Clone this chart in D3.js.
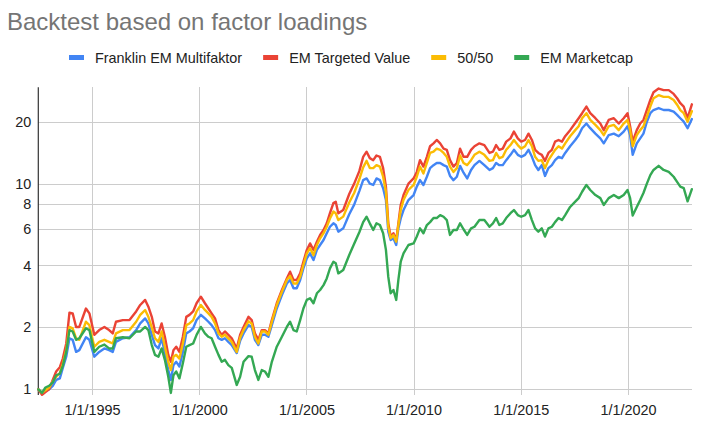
<!DOCTYPE html>
<html>
<head>
<meta charset="utf-8">
<script src="https://cdn.jsdelivr.net/npm/d3@7"></script>
<style>
  html, body { margin: 0; padding: 0; background: #fff; }
  svg { display: block; font-family: Arial, "Liberation Sans", sans-serif; }
</style>
</head>
<body>
<svg id="chart" width="706" height="426"></svg>
<script>
// ---- Data (decimal years) ----
const dates = [1992.5,1992.67,1992.83,1993.0,1993.17,1993.33,1993.5,1993.64,1993.8,1993.95,
 1994.1,1994.26,1994.41,1994.72,1994.88,1995.11,1995.34,1995.58,1995.8,1995.97,
 1996.12,1996.44,1996.75,1997.06,1997.25,1997.48,1997.63,1997.79,1997.94,1998.1,
 1998.25,1998.4,1998.56,1998.68,1998.8,1998.93,1999.08,1999.24,1999.4,1999.55,
 1999.72,1999.88,2000.08,2000.27,2000.43,2000.58,2000.74,2000.9,2001.05,2001.2,
 2001.36,2001.52,2001.75,2001.91,2002.07,2002.3,2002.45,2002.6,2002.76,2002.92,
 2003.07,2003.23,2003.39,2003.62,2003.86,2004.09,2004.24,2004.4,2004.55,2004.71,
 2004.86,2005.02,2005.17,2005.33,2005.49,2005.64,2005.8,2005.95,2006.1,2006.26,
 2006.37,2006.49,2006.72,2007.0,2007.23,2007.47,2007.65,2007.81,2007.96,2008.12,
 2008.27,2008.43,2008.58,2008.71,2008.82,2008.93,2009.06,2009.19,2009.29,2009.4,
 2009.53,2009.76,2010.0,2010.15,2010.3,2010.46,2010.62,2010.77,2010.93,2011.08,
 2011.24,2011.4,2011.55,2011.7,2011.86,2012.02,2012.17,2012.33,2012.5,2012.68,
 2012.84,2013.07,2013.3,2013.54,2013.7,2013.85,2014.0,2014.16,2014.32,2014.52,
 2014.68,2014.86,2015.02,2015.2,2015.36,2015.52,2015.67,2015.82,2015.98,2016.13,
 2016.29,2016.45,2016.6,2016.76,2016.92,2017.07,2017.3,2017.54,2017.7,2017.86,
 2018.06,2018.24,2018.48,2018.71,2018.87,2019.1,2019.34,2019.57,2019.8,2019.98,
 2020.1,2020.22,2020.41,2020.57,2020.72,2020.88,2021.04,2021.19,2021.43,2021.66,
 2021.9,2022.13,2022.29,2022.44,2022.6,2022.78,2022.98];

const franklin = [1.00,0.96,0.98,1.00,1.04,1.11,1.13,1.27,1.44,1.77,
 1.74,1.52,1.55,1.79,1.74,1.44,1.52,1.58,1.55,1.52,
 1.70,1.77,1.79,1.94,2.09,2.21,2.09,1.84,1.64,1.58,
 1.77,1.50,1.24,1.11,1.31,1.36,1.29,1.52,1.87,1.91,
 1.98,2.17,2.30,2.21,2.13,2.05,1.94,1.77,1.74,1.77,
 1.70,1.64,1.50,1.72,1.87,2.05,2.01,1.74,1.64,1.84,
 1.84,1.80,2.05,2.47,2.87,3.27,3.40,3.10,3.10,3.40,
 3.87,4.33,4.58,4.25,4.76,5.03,5.32,5.74,6.17,6.41,
 6.29,5.84,6.06,7.1,7.9,9.2,10.4,10.6,10.0,9.85,
 10.6,10.4,9.5,8.32,5.84,5.32,5.42,5.03,6.06,6.77,
 7.44,8.32,8.8,9.67,10.4,9.85,10.8,11.9,12.3,12.6,
 12.6,12.3,12.1,10.9,10.4,10.8,12.2,11.3,10.6,11.65,
 12.3,12.9,12.3,11.65,11.9,12.6,12.3,12.3,13.0,13.8,
 14.6,13.8,13.5,13.8,14.6,13.5,12.3,11.65,12.3,10.9,
 11.9,12.3,13.0,13.5,13.3,14.1,15.2,16.3,17.2,18.6,
 19.6,18.6,17.5,16.6,15.7,17.2,17.5,17.0,17.9,19.0,
 17.2,13.8,15.7,16.6,17.5,20.0,22.0,22.8,23.3,22.8,
 22.8,22.4,21.6,20.8,20.0,18.6,20.6];

const targetedValue = [1.00,0.94,0.97,1.00,1.11,1.22,1.28,1.41,1.67,2.36,
 2.34,2.01,2.01,2.47,2.34,1.84,1.94,2.01,1.94,1.87,
 2.13,2.17,2.17,2.39,2.57,2.72,2.52,2.25,1.91,1.87,
 2.09,1.80,1.47,1.36,1.55,1.61,1.52,1.80,2.25,2.30,
 2.39,2.62,2.82,2.62,2.47,2.34,2.21,1.94,1.84,1.91,
 1.84,1.77,1.58,1.84,2.01,2.25,2.17,1.87,1.74,1.94,
 1.94,1.87,2.17,2.62,3.04,3.46,3.73,3.40,3.40,3.66,
 4.17,4.76,5.12,4.76,5.22,5.63,5.95,6.41,7.18,8.04,
 8.17,7.18,7.44,8.9,10.0,11.5,13.5,14.3,13.3,13.0,
 13.7,13.5,11.9,9.67,6.41,5.53,5.74,5.32,6.41,7.87,
 8.8,10.0,10.6,11.4,13.0,12.1,13.5,15.2,15.7,16.3,
 15.7,14.8,14.6,13.0,12.1,12.6,14.8,13.5,13.5,14.6,
 15.2,15.7,15.4,14.1,14.3,15.4,14.6,14.8,16.0,16.6,
 17.9,16.6,16.0,16.3,17.5,16.3,14.6,14.1,13.8,12.9,
 14.1,14.6,16.0,16.3,16.0,17.0,18.2,19.7,20.8,22.0,
 23.7,22.0,20.8,19.6,18.2,20.4,20.8,19.6,20.8,22.0,
 19.0,16.0,18.2,19.6,20.4,22.8,25.5,27.8,29.0,28.5,
 28.5,27.3,26.0,24.6,23.7,20.8,24.3];

const fiftyFifty = [1.00,0.96,0.99,1.02,1.09,1.15,1.20,1.33,1.55,2.01,
 1.98,1.77,1.74,2.13,2.05,1.61,1.70,1.74,1.70,1.67,
 1.87,1.94,1.94,2.13,2.30,2.43,2.25,2.00,1.77,1.70,
 1.91,1.61,1.36,1.24,1.44,1.47,1.41,1.67,2.05,2.09,
 2.17,2.39,2.57,2.43,2.34,2.25,2.09,1.87,1.80,1.84,
 1.77,1.70,1.52,1.78,1.94,2.14,2.09,1.80,1.67,1.91,
 1.91,1.84,2.13,2.57,2.98,3.40,3.56,3.27,3.27,3.52,
 4.02,4.58,4.85,4.49,5.03,5.42,5.74,6.17,6.77,7.31,
 7.18,6.65,6.91,8.1,9.0,10.5,12.0,12.9,11.9,11.9,
 12.3,12.1,10.8,9.13,6.17,5.42,5.63,5.22,6.29,7.44,
 8.32,9.31,9.85,10.8,12.1,11.2,12.6,14.1,14.3,14.8,
 14.6,14.1,13.5,12.1,11.4,11.9,13.7,12.6,12.3,13.0,
 13.8,14.3,13.8,12.9,13.0,14.1,13.3,13.5,14.6,15.4,
 16.3,15.4,14.8,15.2,16.3,15.2,13.5,12.9,13.0,11.9,
 13.0,13.8,14.6,15.2,14.8,15.7,17.0,18.2,19.0,20.8,
 22.0,20.4,19.3,18.2,17.2,19.0,19.3,18.2,19.6,20.4,
 18.2,15.2,17.2,18.2,19.0,21.2,23.7,26.0,26.9,26.4,
 26.4,25.5,24.2,22.8,22.0,20.0,22.5];

const marketcap = [1.00,0.96,1.02,1.04,1.08,1.17,1.19,1.30,1.52,1.94,
 1.91,1.74,1.77,1.98,1.94,1.52,1.61,1.65,1.58,1.58,
 1.77,1.79,1.77,1.91,1.91,2.01,1.94,1.64,1.47,1.44,
 1.58,1.39,1.15,0.96,1.17,1.22,1.13,1.34,1.61,1.64,
 1.67,1.84,2.01,1.87,1.80,1.77,1.61,1.47,1.36,1.39,
 1.31,1.27,1.05,1.15,1.36,1.45,1.44,1.24,1.11,1.24,
 1.22,1.15,1.36,1.61,1.80,2.01,2.13,1.94,1.91,2.17,
 2.47,2.72,2.77,2.62,2.93,3.04,3.21,3.46,3.87,4.17,
 4.10,3.66,3.80,4.5,5.1,5.8,6.5,6.9,6.41,5.95,
 6.41,6.29,5.74,4.76,3.52,2.93,3.04,2.72,3.40,4.17,
 4.58,5.03,5.12,5.53,6.06,5.74,6.29,6.5,6.8,6.8,
 7.03,6.9,6.65,5.63,5.95,5.95,6.41,6.0,5.63,6.06,
 6.17,6.65,6.65,6.17,6.41,6.8,6.29,6.41,6.8,7.18,
 7.44,7.03,6.9,7.03,7.44,6.65,6.06,5.84,6.06,5.53,
 6.06,6.17,6.5,6.8,6.65,7.03,7.7,8.17,8.5,9.13,
 9.85,9.31,8.8,8.5,7.87,8.5,8.8,8.5,8.8,9.31,
 8.5,7.0,7.7,8.32,9.0,10.0,11.0,11.65,12.2,11.65,
 11.4,10.8,10.2,9.67,9.5,8.2,9.4];

const seriesNames = ["Franklin EM Multifaktor", "EM Targeted Value", "50/50", "EM Marketcap"];
const seriesValues = [franklin, targetedValue, fiftyFifty, marketcap];
const seriesColors = ["#4285F4", "#EA4335", "#FBBC04", "#34A853"];
const yTickValues = [1, 2, 4, 6, 8, 10, 20];
const xTickYears = [1995, 2000, 2005, 2010, 2015, 2020];
const titleText = "Backtest based on factor loadings";

// ---- Helpers ----
function decYearToDate(y) {
  const yr = Math.floor(y);
  const a = new Date(yr, 0, 1), b = new Date(yr + 1, 0, 1);
  return new Date(+a + (y - yr) * (b - a));
}

// ---- Layout ----
const W = 706, H = 426;
const plot = { left: 38.3, right: 692.3, top: 87.3, bottom: 395 };
const FONT = 'Arial, "Liberation Sans", sans-serif';

const svg = d3.select("#chart");
svg.append("rect").attr("width", W).attr("height", H).attr("fill", "#fff");

const x = d3.scaleTime()
  .domain([new Date(1992, 6, 1), new Date(2023, 0, 1)])
  .range([plot.left, plot.right]);
const y = d3.scaleLog()
  .domain([0.938, 29.4])
  .range([plot.bottom, plot.top]);

// Title
svg.append("text")
  .attr("x", 7).attr("y", 30)
  .attr("font-size", 24).attr("fill", "#757575")
  .text(titleText);

// Legend
const legend = svg.append("g");
let lx = 69;
seriesNames.forEach((name, i) => {
  legend.append("rect")
    .attr("x", lx).attr("y", 55).attr("width", 15).attr("height", 5)
    .attr("fill", seriesColors[i]);
  const t = legend.append("text")
    .attr("x", lx + 26).attr("y", 62.5)
    .attr("font-size", 14.4).attr("fill", "#222")
    .text(name);
  lx += 26 + t.node().getComputedTextLength() + 21;
});

// Y axis with gridlines
const yAxis = d3.axisLeft(y)
  .tickValues(yTickValues)
  .tickFormat(d3.format("d"))
  .tickSize(-(plot.right - plot.left))
  .tickPadding(7);
const gy = svg.append("g")
  .attr("transform", `translate(${plot.left},0)`)
  .call(yAxis);
gy.select(".domain").remove();
gy.selectAll(".tick line").attr("stroke", "#cccccc").attr("shape-rendering", "crispEdges");
gy.selectAll(".tick text").attr("font-size", 14.4).attr("fill", "#222").attr("font-family", FONT);

// X axis with gridlines
const xAxis = d3.axisBottom(x)
  .tickValues(xTickYears.map(yr => new Date(yr, 0, 1)))
  .tickFormat(d3.timeFormat("%-m/%-d/%Y"))
  .tickSize(-(plot.bottom - plot.top))
  .tickPadding(10);
const gx = svg.append("g")
  .attr("transform", `translate(0,${plot.bottom})`)
  .call(xAxis);
gx.select(".domain").remove();
gx.selectAll(".tick line").attr("stroke", "#cccccc").attr("shape-rendering", "crispEdges");
gx.selectAll(".tick text").attr("font-size", 14.4).attr("fill", "#222").attr("font-family", FONT);

// Left axis line
svg.append("line")
  .attr("x1", plot.left).attr("x2", plot.left)
  .attr("y1", plot.top).attr("y2", plot.bottom)
  .attr("stroke", "#333").attr("stroke-width", 1.2);

// Lines
const line = d3.line()
  .x(d => x(d.date))
  .y(d => y(d.value));
seriesValues.forEach((vals, i) => {
  const pts = dates.map((dy, k) => ({ date: decYearToDate(dy), value: vals[k] }))
    .filter(p => p.value != null && !isNaN(p.value));
  svg.append("path")
    .datum(pts)
    .attr("fill", "none")
    .attr("stroke", seriesColors[i])
    .attr("stroke-width", 2.4)
    .attr("stroke-linejoin", "round")
    .attr("stroke-linecap", "round")
    .attr("d", line);
});
</script>
</body>
</html>
